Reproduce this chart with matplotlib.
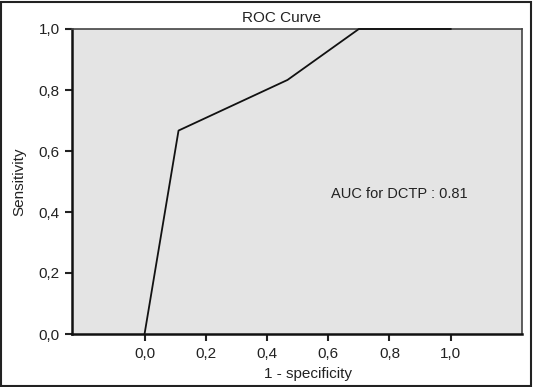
import matplotlib
matplotlib.use("Agg")
import matplotlib.pyplot as plt
from matplotlib.patches import Rectangle

plt.rcParams['font.family'] = ['Liberation Sans', 'DejaVu Sans']

fpr = [0.0, 0.111, 0.467, 0.70, 1.0]
tpr = [0.0, 0.667, 0.833, 1.0, 1.0]
ticks = [0.0, 0.2, 0.4, 0.6, 0.8, 1.0]
tick_labels = ["0,0", "0,2", "0,4", "0,6", "0,8", "1,0"]
title = "ROC Curve"
xlabel = "1 - specificity"
ylabel = "Sensitivity"
auc_text = "AUC for DCTP : 0.81"

W, H = 533, 387
fig = plt.figure(figsize=(W / 100, H / 100), dpi=100)
ax = fig.add_axes([72 / W, 1 - 334 / H, (522 - 72) / W, (334 - 29) / H])
ax.set_facecolor('#e4e4e4')

ax.plot(fpr, tpr, color='#111111', lw=1.3, clip_on=False, zorder=5)

ax.set_xlim(-0.237, 1.233)
ax.set_ylim(0, 1)
ax.set_xticks(ticks)
ax.set_xticklabels(tick_labels)
ax.set_yticks(ticks)
ax.set_yticklabels(tick_labels)
ax.tick_params(direction='out', length=5, width=1.5, labelsize=11, colors='#222222', pad=4)

for side in ['left', 'bottom']:
    ax.spines[side].set_linewidth(1.8)
    ax.spines[side].set_color('#111111')
for side in ['top', 'right']:
    ax.spines[side].set_linewidth(1.2)
    ax.spines[side].set_color('#444444')

fig.text(282 / W, 1 - 18 / H, title, fontsize=11, color='#222222', ha='center', va='center')
fig.text(308 / W, 1 - 374 / H, xlabel, fontsize=11, color='#222222', ha='center', va='center')
fig.text(19 / W, 1 - 182 / H, ylabel, fontsize=11, color='#222222', ha='center', va='center',
         rotation=90)
ax.text(0.61, 0.458, auc_text, fontsize=10.5, color='#222222', va='center', ha='left')

fig.patches.append(Rectangle((1 / W, 1 / H), (W - 3) / W, (H - 3) / H, transform=fig.transFigure,
                             fill=False, edgecolor='#222222', lw=1.5))

fig.savefig("out.png", dpi=100)
